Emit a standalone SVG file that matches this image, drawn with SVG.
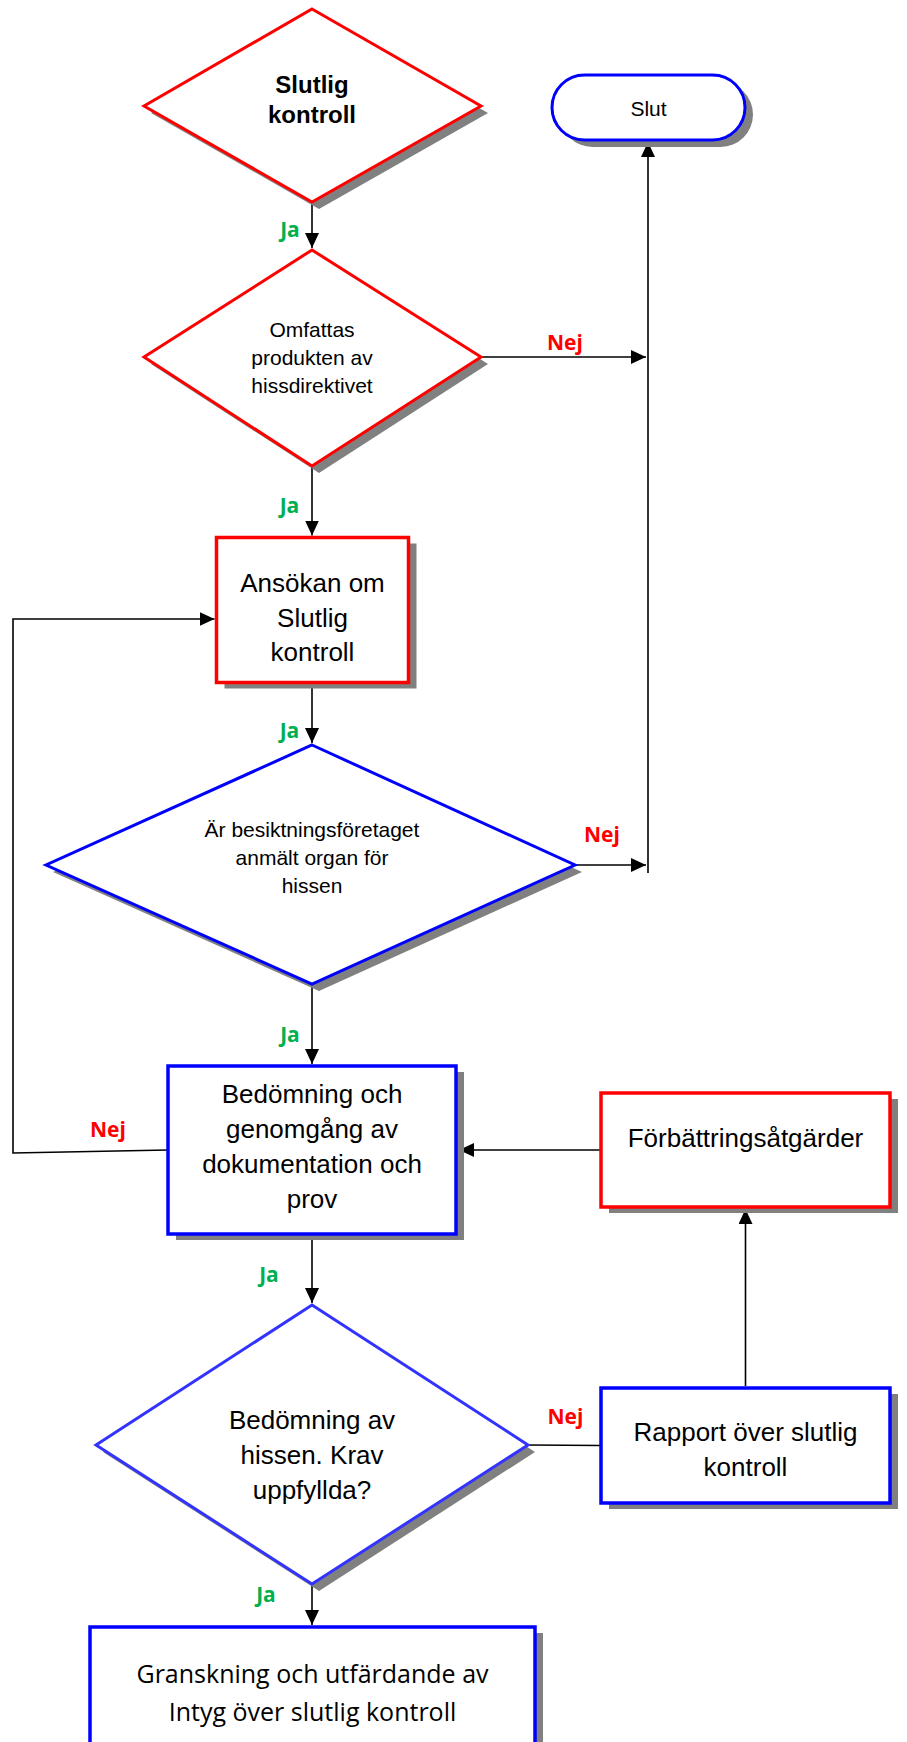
<svg xmlns="http://www.w3.org/2000/svg" width="907" height="1742" viewBox="0 0 907 1742">
<defs>
<marker id="arr" viewBox="0 0 15 14" refX="15" refY="7" markerWidth="15" markerHeight="14" markerUnits="userSpaceOnUse" orient="auto">
<path d="M0,0 L15,7 L0,14 z" fill="#000"/>
</marker>
</defs>
<style>
.bg{fill:#fff}
.shadow{fill:#808080;stroke:none}
.red{fill:#fff;stroke:#ff0000;stroke-width:3.5}
.blue{fill:#fff;stroke:#0000ff;stroke-width:3.5}
.blue2{fill:#fff;stroke:#3333ff;stroke-width:3.5}
.dred{fill:#fff;stroke:#ff0000;stroke-width:3}
.dblue{fill:#fff;stroke:#0000ff;stroke-width:3}
.t{font-family:"Liberation Sans",Arial,sans-serif;fill:#000;text-anchor:middle}
.t21{font-size:21px}
.t26{font-size:26px}
.tb{font-size:24px;font-weight:bold}
.cal{font-family:"Open Sans","Noto Sans",sans-serif;font-size:25px;fill:#000;text-anchor:middle}
.ja{font-family:"Open Sans","Noto Sans",sans-serif;font-size:21px;font-weight:bold;fill:#00b050;text-anchor:middle}
.nej{font-family:"Open Sans","Noto Sans",sans-serif;font-size:21px;font-weight:bold;fill:#ff0000;text-anchor:middle}
.c{fill:none;stroke:#000;stroke-width:1.6}
.ca{fill:none;stroke:#000;stroke-width:1.6;marker-end:url(#arr)}
</style>
<rect class="bg" x="0" y="0" width="907" height="1742"/>

<g id="connectors">
<path class="ca" d="M312,202 L312,248"/>
<path class="ca" d="M481,357 L646,357"/>
<path class="ca" d="M648,873 L648,142"/>
<path class="ca" d="M312,466 L312,535.5"/>
<path class="ca" d="M312,684 L312,743"/>
<path class="ca" d="M575,865 L646,865"/>
<path class="ca" d="M312,984 L312,1064"/>
<path class="ca" d="M168,1150 L13,1153 L13,619 L214.5,619"/>
<path class="ca" d="M601,1150 L459,1150"/>
<path class="ca" d="M745.5,1386 L745.5,1209"/>
<path class="c" d="M601,1445.5 L528,1445"/>
<path class="ca" d="M312,1234 L312,1303"/>
<path class="ca" d="M312,1584 L312,1625"/>
</g>

<g id="labels">
<text class="ja" x="290" y="237">Ja</text>
<text class="ja" x="289.5" y="513">Ja</text>
<text class="ja" x="289.5" y="738">Ja</text>
<text class="ja" x="290" y="1042">Ja</text>
<text class="ja" x="269" y="1282">Ja</text>
<text class="ja" x="266" y="1602">Ja</text>
<text class="nej" x="565" y="350">Nej</text>
<text class="nej" x="602" y="842">Nej</text>
<text class="nej" x="108" y="1137">Nej</text>
<text class="nej" x="565.5" y="1424">Nej</text>
</g>

<g id="n_slutlig_kontroll">
<polygon class="shadow" points="319,16 488,113 319,209 151,113"/>
<polygon class="dred" points="312,9 481,106 312,202 144,106"/>
<text class="t tb" x="312" y="93">Slutlig</text>
<text class="t tb" x="312" y="123">kontroll</text>
</g>

<g id="n_slut">
<rect class="shadow" x="560" y="82" width="193" height="65" rx="32.5"/>
<rect class="dblue" x="552" y="75" width="193" height="65" rx="32.5"/>
<text class="t t21" x="648.5" y="116">Slut</text>
</g>

<g id="n_omfattas">
<polygon class="shadow" points="319,257 488,364 319,473 151,364"/>
<polygon class="dred" points="312,250 481,357 312,466 144,357"/>
<text class="t t21" x="312" y="337">Omfattas</text>
<text class="t t21" x="312" y="365">produkten av</text>
<text class="t t21" x="312" y="393">hissdirektivet</text>
</g>

<g id="n_ansokan">
<rect class="shadow" x="224.5" y="543.5" width="192" height="145"/>
<rect class="red" x="216.5" y="537.5" width="192" height="145"/>
<text class="t t26" x="312.5" y="592">Ansökan om</text>
<text class="t t26" x="312.5" y="627">Slutlig</text>
<text class="t t26" x="312.5" y="661">kontroll</text>
</g>

<g id="n_anmalt">
<polygon class="shadow" points="319,752 582,872 319,991 53,872"/>
<polygon class="dblue" points="312,745 575,865 312,984 46,865"/>
<text class="t t21" x="312" y="837">Är besiktningsföretaget</text>
<text class="t t21" x="312" y="865">anmält organ för</text>
<text class="t t21" x="312" y="893">hissen</text>
</g>

<g id="n_bedomning">
<rect class="shadow" x="176" y="1072" width="288" height="168"/>
<rect class="blue" x="168" y="1066" width="288" height="168"/>
<text class="t t26" x="312" y="1103">Bedömning och</text>
<text class="t t26" x="312" y="1138">genomgång av</text>
<text class="t t26" x="312" y="1173">dokumentation och</text>
<text class="t t26" x="312" y="1208">prov</text>
</g>

<g id="n_forbattring">
<rect class="shadow" x="609" y="1099" width="289" height="114"/>
<rect class="red" x="601" y="1093" width="289" height="114"/>
<text class="t t26" x="745.5" y="1147">Förbättringsåtgärder</text>
</g>

<g id="n_krav">
<polygon class="shadow" points="319,1312 535,1452 319,1591 103,1452"/>
<polygon class="dblue" style="stroke:#3333ff" points="312,1305 528,1445 312,1584 96,1445"/>
<text class="t t26" x="312" y="1429">Bedömning av</text>
<text class="t t26" x="312" y="1464">hissen. Krav</text>
<text class="t t26" x="312" y="1499">uppfyllda?</text>
</g>

<g id="n_rapport">
<rect class="shadow" x="609" y="1394" width="289" height="115"/>
<rect class="blue" x="601" y="1388" width="289" height="115"/>
<text class="t t26" x="745.5" y="1441">Rapport över slutlig</text>
<text class="t t26" x="745.5" y="1476">kontroll</text>
</g>

<g id="n_granskning">
<rect class="shadow" x="98" y="1633" width="445" height="140"/>
<rect class="blue" x="90" y="1627" width="445" height="140"/>
<text class="cal" x="312.5" y="1683">Granskning och utfärdande av</text>
<text class="cal" x="312.5" y="1721">Intyg över slutlig kontroll</text>
</g>
</svg>
